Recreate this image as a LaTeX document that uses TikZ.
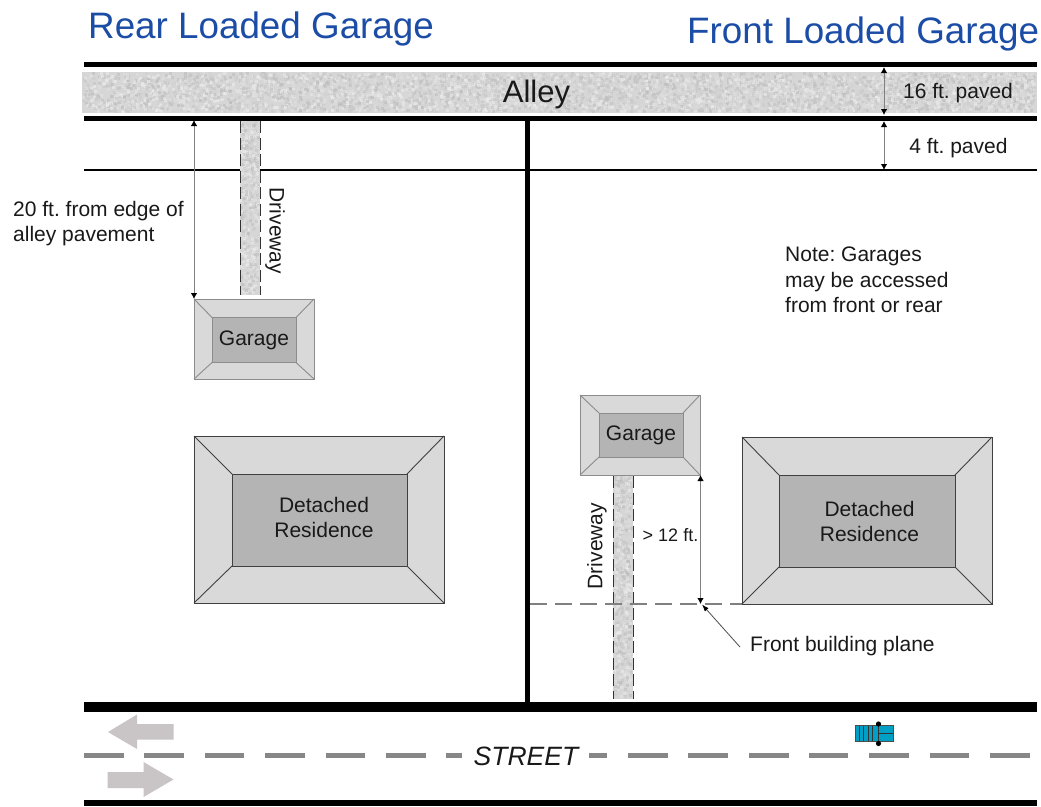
\documentclass[tikz,border=0pt]{standalone}
\usepackage{fontspec}
\setmainfont{Liberation Sans}
\usetikzlibrary{arrows.meta}
\frenchspacing
\definecolor{titleblue}{HTML}{1C4DA6}
\definecolor{roofout}{HTML}{D9D9D9}
\definecolor{roofin}{HTML}{B4B4B4}
\definecolor{streetarrow}{HTML}{C9C4C6}
\definecolor{truckblue}{HTML}{00A0C6}
\newcommand{\fs}[1]{\fontsize{#1}{#1}\selectfont}
\newcommand{\gravel}[4]{% x0 y0 x1 y1
  \fill[gravelbase] (#1,#2) rectangle (#3,#4);
  \pgfmathtruncatemacro{\gravn}{(#3-#1)/7*(#4-#2)}
  \foreach \gi in {1,...,\gravn}{
    \pgfmathsetmacro{\gx}{#1+rnd*(#3-#1-3)}
    \pgfmathsetmacro{\gy}{#2+rnd*(#4-#2-3)}
    \pgfmathtruncatemacro{\gs}{6+rnd*22}
    \fill[black!\gs!white,opacity=.55] (\gx,\gy) rectangle ++(3,3);
  }}
\tikzset{
  x=1pt,y=-1pt,
  gravelbase/.style={fill=black!16},
  garageout/.style={draw=black!45,line width=.9pt,fill=roofout,inner sep=0pt,outer sep=0pt,rectangle},
  garagein/.style={draw=black!45,line width=.9pt,fill=roofin,inner sep=0pt,outer sep=0pt,rectangle,font=\fs{21},text=black!90},
  resout/.style={draw=black!75,line width=.9pt,fill=roofout,inner sep=0pt,outer sep=0pt,rectangle},
  resin/.style={draw=black!75,line width=.9pt,fill=roofin,inner sep=0pt,outer sep=0pt,rectangle},
  restext/.style={font=\fs{21},text=black!90,align=center,inner sep=0pt},
  hipgar/.style={draw=black!45,line width=.9pt},
  hipres/.style={draw=black!75,line width=.9pt},
  thickroad/.style={line width=5pt,draw=black},
  thinroad/.style={line width=2.4pt,draw=black},
  dimline/.style={draw=black!50,line width=1pt,{Latex[length=6pt,width=6.5pt,black]}-{Latex[length=6pt,width=6.5pt,black]}},
  drivedash/.style={draw=black!80,line width=1pt,dash pattern=on 12pt off 4.5pt},
  txtlabel/.style={font=\fs{21},text=black!90,inner sep=0pt},
  titletext/.style={font=\fs{36.8},text=titleblue,inner sep=0pt,anchor=base west},
  lanedash/.style={fill=black!47},
  sarrow/.style={fill=streetarrow},
}
\begin{document}
\begin{tikzpicture}
\useasboundingbox (0,0) rectangle (1041,806);
\fill[white] (0,0) rectangle (1041,806);
\pgfmathsetseed{4242}
% alley and driveways
\gravel{82}{72}{1037}{113}
\gravel{240}{120}{260}{295}
\gravel{613}{476}{633}{699}
% road lines
\coordinate (tl) at (84,64); \coordinate (tr) at (1037,64);
\coordinate (ml) at (84,118); \coordinate (mr) at (1037,118);
\coordinate (pl) at (84,170); \coordinate (pr) at (240,170);
\coordinate (pl2) at (260,170); \coordinate (pr2) at (1037,170);
\coordinate (sl) at (84,707); \coordinate (sr) at (1037,707);
\coordinate (bl) at (84,803); \coordinate (br) at (1037,803);
\coordinate (vt) at (527.5,118); \coordinate (vb) at (527.5,707);
\draw[thickroad] (tl) -- (tr);
\draw[thickroad] (ml) -- (mr);
\draw[thinroad] (pl) -- (pr);
\draw[thinroad] (pl2) -- (pr2);
\draw[line width=10pt] (sl) -- (sr);
\draw[line width=6pt] (bl) -- (br);
\draw[thickroad] (vt) -- (vb);
% driveways edges
\coordinate (d1a) at (240,121); \coordinate (d1b) at (240,295);
\coordinate (d1c) at (260,121); \coordinate (d1d) at (260,295);
\coordinate (d2a) at (613,476); \coordinate (d2b) at (613,699);
\coordinate (d2c) at (633,476); \coordinate (d2d) at (633,699);
\draw[drivedash] (d1a) -- (d1b);
\draw[drivedash] (d1c) -- (d1d);
\draw[drivedash] (d2a) -- (d2b);
\draw[drivedash] (d2c) -- (d2d);
% building plane
\coordinate (fpl) at (530,604);
\draw[draw=black!50,line width=1.8pt,dash pattern=on 17pt off 8pt] (fpl) -- (742,604);
% rear garage
\node[garageout,minimum width=120pt,minimum height=80pt] (g1o) at (254,339) {};
\node[garagein,minimum width=84pt,minimum height=45pt] (g1i) at (254,340) {Garage};
% front garage
\node[garageout,minimum width=120pt,minimum height=80pt] (g2o) at (640,435) {};
\node[garagein,minimum width=84pt,minimum height=44pt] (g2i) at (641,435) {Garage};
\foreach \g in {g1,g2}\foreach \c in {north west,north east,south west,south east}
  \draw[hipgar] (\g o.\c) -- (\g i.\c);
% residences
\node[resout,minimum width=250pt,minimum height=167pt] (r1o) at (319,519.5) {};
\node[resin,minimum width=175pt,minimum height=92pt] (r1i) at (319.5,520) {};
\node[resout,minimum width=250pt,minimum height=167pt] (r2o) at (867,520.5) {};
\node[resin,minimum width=176pt,minimum height=92pt] (r2i) at (867,521) {};
\foreach \g in {r1,r2}\foreach \c in {north west,north east,south west,south east}
  \draw[hipres] (\g o.\c) -- (\g i.\c);
\node[restext] (r1t) at (324,517) {Detached\\[4pt]Residence};
\node[restext] (r2t) at (869.5,521) {Detached\\[4pt]Residence};
% dimensions
\coordinate (a1) at (194,120); \coordinate (a2) at (194,299);
\draw[dimline] (a1) -- (a2);
\coordinate (b1) at (884,67); \coordinate (b2) at (884,115);
\coordinate (b3) at (884,121); \coordinate (b4) at (884,170);
\draw[dimline] (b1) -- (b2);
\draw[dimline] (b3) -- (b4);
\coordinate (c1) at (700.5,475); \coordinate (c2) at (700.5,604);
\draw[dimline] (c1) -- (c2);
% street
\foreach \i in {0,...,5,12,13,14,15}
  \fill[lanedash] ({84+60.4*\i},753) rectangle ++(39.5,5);
\fill[lanedash] (446,753) rectangle (462,758);
\fill[lanedash] (589,753) rectangle (607,758);
\fill[lanedash] (628,753) rectangle (668,758);
\fill[lanedash] (688,753) rectangle (728,758);
\fill[lanedash] (749,753) rectangle (789,758);
\fill[sarrow] (108,732) -- (137,714.5) -- (137,724) -- (173.5,724) -- (173.5,739.5) -- (137,739.5) -- (137,749) -- cycle;
\fill[sarrow] (173.5,779.5) -- (143.5,762) -- (143.5,772) -- (107.5,772) -- (107.5,788) -- (143.5,788) -- (143.5,797) -- cycle;
% truck
\fill[truckblue] (855,725.5) rectangle (893,741);
\draw[black!70,line width=.7pt] (855,725.5) rectangle (893,741);
\foreach \tx in {859,863,868,872.5,878}
  \draw[black!80,line width=.7pt] (\tx,725.5) -- (\tx,741);
\draw[black!80,line width=.7pt] (878,733) -- (893,733);
\fill (878.5,724) circle (2.6pt);
\fill (878.5,743.5) circle (2.6pt);
% texts
\node[titletext] (t1) at (88,38) {Rear Loaded Garage};
\node[titletext] (t2) at (687,43) {Front Loaded Garage};
\node[txtlabel,font=\fs{31}] (alley) at (536.5,94) {Alley};
\node[txtlabel] (l16) at (958,93) {16 ft. paved};
\node[txtlabel] (l4) at (958.5,148) {4 ft. paved};
\node[txtlabel,align=left,anchor=north west] (l20) at (13,201) {20 ft. from edge of\\[4pt]alley pavement};
\node[txtlabel,rotate=-90] (dr1) at (275,231) {Driveway};
\node[txtlabel,rotate=90] (dr2) at (597,546) {Driveway};
\node[txtlabel,align=left,anchor=north west] (note) at (785,247) {Note: Garages\\[4.5pt]may be accessed\\[4.5pt]from front or rear};
\node[txtlabel,font=\fs{18}] (l12) at (670.5,535) {> 12 ft.};
\node[txtlabel,anchor=west] (fb) at (750,646) {Front building plane};
\node[txtlabel,font=\itshape\fs{26.5}] (st) at (526,756) {STREET};
\coordinate (lead) at (702,604.5);
\draw[draw=black!70,line width=.8pt,-{Latex[length=7pt,width=5pt,black]}] (fb.west) ++(-10,1) -- (lead);
\end{tikzpicture}
\end{document}
